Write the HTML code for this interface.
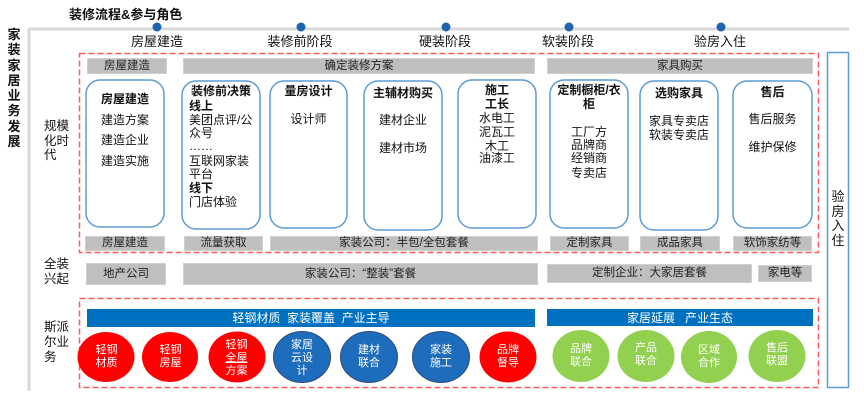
<!DOCTYPE html>
<html><head><meta charset="utf-8">
<style>
html,body{margin:0;padding:0;background:#fff;}
body{width:864px;height:402px;position:relative;overflow:hidden;font-family:"Liberation Sans","Noto Sans CJK SC",sans-serif;color:#111;}
.a{position:absolute;}
.t{position:absolute;height:14px;line-height:14px;font-size:12px;text-align:center;white-space:nowrap;}
.b{font-weight:bold;}
.g{position:absolute;background:#bfbfbf;border:1px solid #d0d0d0;box-sizing:border-box;font-size:11.5px;text-align:center;color:#222;white-space:nowrap;}
.w{color:#fff;font-size:11px;line-height:12.8px;text-align:center;position:absolute;}
</style></head><body>
<svg class="a" style="left:0;top:0" width="864" height="402">
  <line x1="29" y1="29" x2="849" y2="29" stroke="#d9d9d9" stroke-width="3"/>
  <line x1="29" y1="28" x2="29" y2="391" stroke="#d9d9d9" stroke-width="3"/>
  <g fill="#1f63b0">
    <circle cx="157" cy="27" r="4.5"/><circle cx="301" cy="27" r="4.5"/><circle cx="446" cy="27" r="4.5"/><circle cx="569" cy="27" r="4.5"/><circle cx="721" cy="27" r="4.5"/>
  </g>
  <rect x="79.5" y="53.5" width="739" height="199" fill="none" stroke="#ff5a5a" stroke-width="1.5" stroke-dasharray="6 3"/>
  <rect x="79.5" y="298.5" width="739" height="89" fill="none" stroke="#ff5a5a" stroke-width="1.5" stroke-dasharray="6 3"/>
  <rect x="827.5" y="52.5" width="21" height="335" fill="none" stroke="#5b9bd5" stroke-width="1.5"/>
  <g fill="none" stroke="#5b9bd5" stroke-width="1.5">
    <rect x="86" y="80" width="78" height="147" rx="14"/>
    <rect x="182" y="81" width="78" height="148" rx="14"/>
    <rect x="270" y="81" width="77" height="147" rx="14"/>
    <rect x="364" y="81" width="78" height="149" rx="14"/>
    <rect x="458" y="80" width="78" height="148" rx="14"/>
    <rect x="550" y="80" width="78" height="148" rx="14"/>
    <rect x="640" y="81" width="78" height="149" rx="14"/>
    <rect x="733" y="81" width="79" height="147" rx="14"/>
  </g>
  <rect x="87" y="309" width="448" height="18" fill="#0070c0"/>
  <rect x="547" y="309" width="266" height="17" fill="#0070c0"/>
  <g>
    <ellipse cx="106" cy="357" rx="28.5" ry="25" fill="#ff0000"/>
    <ellipse cx="170" cy="357" rx="28" ry="25" fill="#ff0000"/>
    <ellipse cx="237" cy="357" rx="28.5" ry="25.5" fill="#ff0000"/>
    <ellipse cx="302" cy="357" rx="28.5" ry="25.5" fill="#1e6cbc" stroke="#2c4a78" stroke-width="1"/>
    <ellipse cx="369" cy="357" rx="28.5" ry="25.5" fill="#1e6cbc" stroke="#2c4a78" stroke-width="1"/>
    <ellipse cx="441" cy="357" rx="28.5" ry="25.5" fill="#1e6cbc" stroke="#2c4a78" stroke-width="1"/>
    <ellipse cx="508" cy="357" rx="28.5" ry="25.5" fill="#ff0000"/>
    <ellipse cx="581" cy="356" rx="28.5" ry="26" fill="#92d050"/>
    <ellipse cx="646" cy="356" rx="28.5" ry="26" fill="#92d050"/>
    <ellipse cx="709" cy="357" rx="28" ry="26" fill="#92d050"/>
    <ellipse cx="777" cy="356" rx="28.5" ry="26" fill="#92d050"/>
  </g>
</svg>

<!-- titles -->
<div class="a b" style="left:69px;top:7px;font-size:13px;line-height:16px;white-space:nowrap;">装修流程&amp;参与角色</div>
<div class="a b" style="left:7px;top:27px;width:14px;font-size:13px;line-height:15.3px;text-align:center;">家装家居业务发展</div>

<div class="t" style="left:117px;width:80px;top:35px;font-size:13px;">房屋建造</div>
<div class="t" style="left:260px;width:80px;top:35px;font-size:13px;">装修前阶段</div>
<div class="t" style="left:405px;width:80px;top:35px;font-size:13px;">硬装阶段</div>
<div class="t" style="left:528px;width:80px;top:35px;font-size:13px;">软装阶段</div>
<div class="t" style="left:680px;width:80px;top:35px;font-size:13px;">验房入住</div>

<div class="a" style="left:44px;top:119px;width:27px;font-size:12.5px;line-height:14.5px;">规模化时代</div>
<div class="a" style="left:44px;top:257px;width:27px;font-size:12.5px;line-height:15px;">全装兴起</div>
<div class="a" style="left:44px;top:320px;width:27px;font-size:12.5px;line-height:15px;">斯派尔业务</div>

<div class="a" style="left:830px;top:190px;width:16px;font-size:13px;line-height:14.5px;text-align:center;">验房入住</div>

<!-- header gray row -->
<div class="g" style="left:87px;top:58px;width:80px;height:16px;line-height:14px;">房屋建造</div>
<div class="g" style="left:183px;top:58px;width:352px;height:16px;line-height:14px;">确定装修方案</div>
<div class="g" style="left:547px;top:58px;width:266px;height:16px;line-height:14px;">家具购买</div>

<!-- box 1 -->
<div class="t b" style="left:101px;top:92px;text-align:left;">房屋建造</div>
<div class="t" style="left:101px;top:113px;text-align:left;">建造方案</div>
<div class="t" style="left:101px;top:133px;text-align:left;">建造企业</div>
<div class="t" style="left:101px;top:154px;text-align:left;">建造实施</div>
<!-- box 2 -->
<div class="t b" style="left:182px;width:78px;top:84px;">装修前决策</div>
<div class="t b" style="left:189px;top:99px;text-align:left;">线上</div>
<div class="t" style="left:189px;top:113px;text-align:left;">美团点评/公</div>
<div class="t" style="left:189px;top:126px;text-align:left;">众号</div>
<div class="t" style="left:189px;top:139px;text-align:left;">……</div>
<div class="t" style="left:189px;top:154px;text-align:left;">互联网家装</div>
<div class="t" style="left:189px;top:167px;text-align:left;">平台</div>
<div class="t b" style="left:189px;top:181px;text-align:left;">线下</div>
<div class="t" style="left:189px;top:195px;text-align:left;">门店体验</div>
<!-- box 3 -->
<div class="t b" style="left:270px;width:77px;top:84px;">量房设计</div>
<div class="t" style="left:270px;width:77px;top:112px;">设计师</div>
<!-- box 4 -->
<div class="t b" style="left:364px;width:78px;top:86px;">主辅材购买</div>
<div class="t" style="left:364px;width:78px;top:113px;">建材企业</div>
<div class="t" style="left:364px;width:78px;top:141px;">建材市场</div>
<!-- box 5 -->
<div class="t b" style="left:458px;width:78px;top:83px;">施工</div>
<div class="t b" style="left:458px;width:78px;top:97px;">工长</div>
<div class="t" style="left:458px;width:78px;top:111px;">水电工</div>
<div class="t" style="left:458px;width:78px;top:125px;">泥瓦工</div>
<div class="t" style="left:458px;width:78px;top:139px;">木工</div>
<div class="t" style="left:458px;width:78px;top:151px;">油漆工</div>
<!-- box 6 -->
<div class="t b" style="left:550px;width:78px;top:83px;">定制橱柜/衣</div>
<div class="t b" style="left:550px;width:78px;top:97px;">柜</div>
<div class="t" style="left:550px;width:78px;top:125px;">工厂方</div>
<div class="t" style="left:550px;width:78px;top:138px;">品牌商</div>
<div class="t" style="left:550px;width:78px;top:151px;">经销商</div>
<div class="t" style="left:550px;width:78px;top:166px;">专卖店</div>
<!-- box 7 -->
<div class="t b" style="left:640px;width:78px;top:86px;">选购家具</div>
<div class="t" style="left:640px;width:78px;top:114px;">家具专卖店</div>
<div class="t" style="left:640px;width:78px;top:128px;">软装专卖店</div>
<!-- box 8 -->
<div class="t b" style="left:733px;width:79px;top:85px;">售后</div>
<div class="t" style="left:733px;width:79px;top:112px;">售后服务</div>
<div class="t" style="left:733px;width:79px;top:140px;">维护保修</div>

<!-- bottom gray row 1 -->
<div class="g" style="left:85px;top:236px;width:80px;height:15px;line-height:13px;">房屋建造</div>
<div class="g" style="left:184px;top:236px;width:79px;height:15px;line-height:13px;">流量获取</div>
<div class="g" style="left:270px;top:236px;width:268px;height:15px;line-height:13px;">家装公司：半包/全包套餐</div>
<div class="g" style="left:550px;top:236px;width:79px;height:15px;line-height:13px;">定制家具</div>
<div class="g" style="left:640px;top:236px;width:80px;height:15px;line-height:13px;">成品家具</div>
<div class="g" style="left:733px;top:236px;width:79px;height:15px;line-height:13px;">软饰家纺等</div>

<!-- row 2 -->
<div class="g" style="left:86px;top:263px;width:80px;height:22px;line-height:20px;">地产公司</div>
<div class="g" style="left:183px;top:263px;width:355px;height:22px;line-height:20px;">家装公司：“整装”套餐</div>
<div class="g" style="left:547px;top:264px;width:205px;height:19px;line-height:17px;">定制企业：大家居套餐</div>
<div class="g" style="left:758px;top:265px;width:54px;height:17px;line-height:15px;">家电等</div>

<!-- blue bars text -->
<div class="a" style="left:87px;top:310px;width:448px;text-align:center;color:#fff;font-size:12px;line-height:16px;white-space:pre;">轻钢材质  家装覆盖  产业主导</div>
<div class="a" style="left:547px;top:310px;width:266px;text-align:center;color:#fff;font-size:12px;line-height:16px;white-space:pre;">家居延展   产业生态</div>

<!-- circle texts -->
<div class="w" style="left:78px;width:57px;top:344px;">轻钢<br>材质</div>
<div class="w" style="left:142px;width:57px;top:344px;">轻钢<br>房屋</div>
<div class="w" style="left:208px;width:57px;top:339px;">轻钢<br><u>全屋</u><br>方案</div>
<div class="w" style="left:273px;width:58px;top:339px;">家居<br>云设<br>计</div>
<div class="w" style="left:340px;width:58px;top:344px;">建材<br>联合</div>
<div class="w" style="left:412px;width:58px;top:344px;">家装<br>施工</div>
<div class="w" style="left:479px;width:58px;top:344px;">品牌<br>督导</div>
<div class="w" style="left:552px;width:58px;top:343px;">品牌<br>联合</div>
<div class="w" style="left:617px;width:58px;top:342px;">产品<br>联合</div>
<div class="w" style="left:680px;width:58px;top:344px;">区域<br>合作</div>
<div class="w" style="left:748px;width:58px;top:342px;">售后<br>联盟</div>
</body></html>
